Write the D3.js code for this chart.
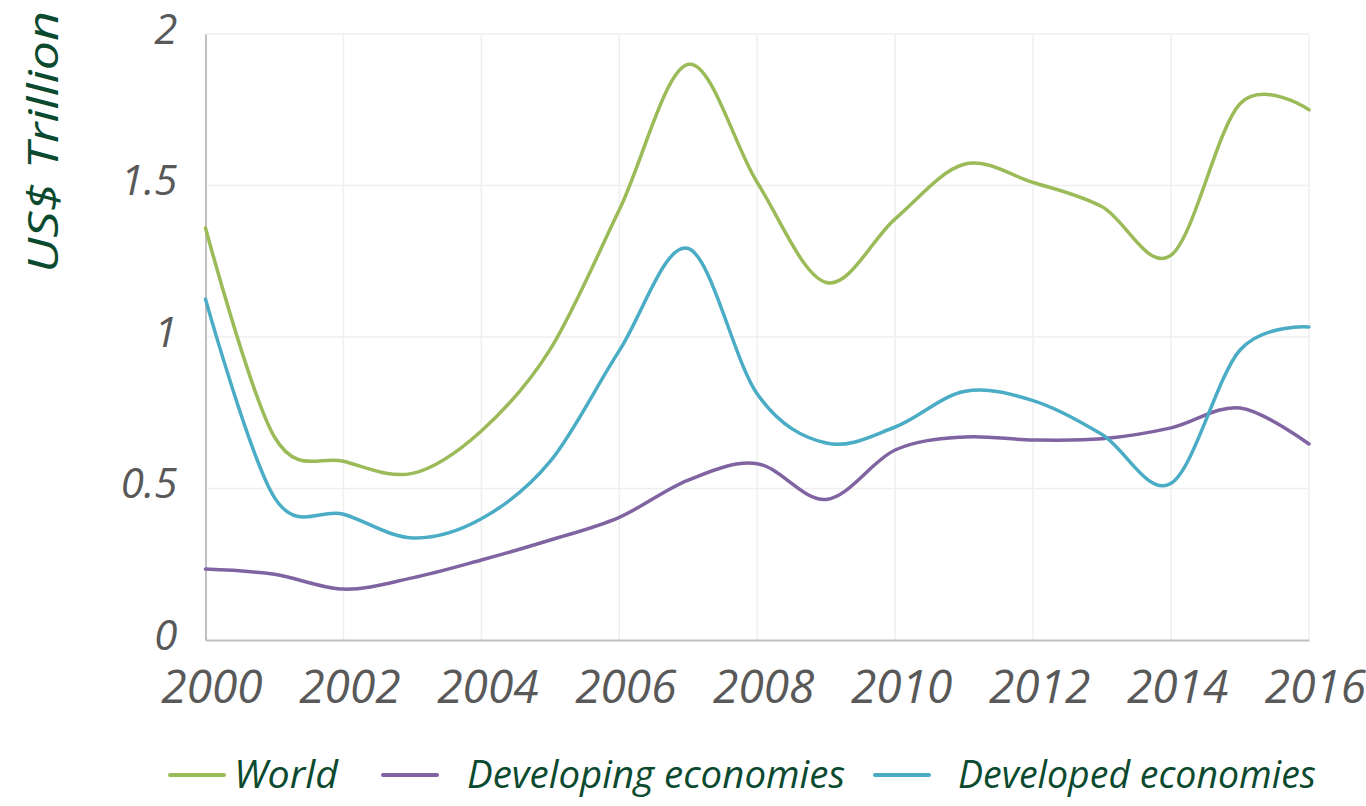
<!DOCTYPE html>
<html>
<head>
<meta charset="utf-8">
<script src="https://cdn.jsdelivr.net/npm/d3@7"></script>
<style>
  html, body { margin: 0; padding: 0; background: #fff; }
  svg { display: block; }
</style>
</head>
<body>
<svg id="chart" width="1366" height="806"></svg>
<script>
// ---- data ----
const years = [2000,2001,2002,2003,2004,2005,2006,2007,2008,2009,2010,2011,2012,2013,2014,2015,2016];
const world =      [1.36,0.67,0.59,0.55,0.69,0.96,1.42,1.90,1.51,1.18,1.39,1.57,1.51,1.43,1.27,1.77,1.75];
const developing = [0.234,0.217,0.168,0.205,0.264,0.33,0.405,0.528,0.582,0.464,0.627,0.670,0.660,0.664,0.700,0.766,0.647];
const developed =  [1.125,0.47,0.415,0.337,0.40,0.59,0.955,1.292,0.812,0.650,0.703,0.820,0.790,0.678,0.517,0.957,1.033];
const seriesNames = ["World", "Developing economies", "Developed economies"];
const seriesColors = ["#9bbb59", "#8064a2", "#4bacc6"];
const xTicks = [2000,2002,2004,2006,2008,2010,2012,2014,2016];
const yTicks = [0,0.5,1,1.5,2];
const yTitle = "US$ Trillion";

(function () {
// ---- layout ----
const svg = d3.select("#chart");
const pLeft = 205.5, pRight = 1309, pTop = 34, pBottom = 640;
const x = d3.scaleLinear().domain([2000, 2016]).range([pLeft, pRight]);
const y = d3.scaleLinear().domain([0, 2]).range([pBottom, pTop]);
const tickFont = "'Open Sans', 'DejaVu Sans', sans-serif";

// gridlines
const grid = svg.append("g");
grid.selectAll(".hg").data(yTicks.filter(d => d > 0)).join("line")
  .attr("x1", pLeft).attr("x2", pRight)
  .attr("y1", d => y(d)).attr("y2", d => y(d))
  .attr("stroke", "#efefef").attr("stroke-width", 1.5);
grid.selectAll(".vg").data(xTicks.filter(d => d > 2000)).join("line")
  .attr("x1", d => x(d)).attr("x2", d => x(d))
  .attr("y1", pTop).attr("y2", pBottom)
  .attr("stroke", "#efefef").attr("stroke-width", 1.5);

// axes
const xAxis = svg.append("g").attr("transform", `translate(0,${pBottom})`)
  .call(d3.axisBottom(x).tickValues(xTicks).tickFormat(d3.format("d")).tickSize(0).tickPadding(54));
const yAxis = svg.append("g").attr("transform", `translate(${pLeft},0)`)
  .call(d3.axisLeft(y).tickValues(yTicks).tickFormat(d3.format("~g")).tickSize(0).tickPadding(28));
[xAxis, yAxis].forEach(a => {
  a.select(".domain").attr("stroke", "#bfbfbf").attr("stroke-width", 2);
  a.selectAll("text").attr("fill", "#595959").attr("font-family", tickFont)
    .attr("font-style", "italic").attr("font-size", 42);
});
xAxis.selectAll("text").attr("font-size", 46).attr("dx", 6).attr("dy", "0.2em");
yAxis.selectAll("text").attr("dy", "0.22em");

// y title
svg.append("text")
  .attr("transform", `translate(58,142) rotate(-90)`)
  .attr("text-anchor", "middle")
  .attr("fill", "#0b4a2f")
  .attr("font-family", tickFont).attr("font-style", "italic")
  .attr("font-size", 42)
  .attr("textLength", 262)
  .attr("lengthAdjust", "spacingAndGlyphs")
  .text(yTitle);

// lines
const allSeries = [world, developing, developed];
const line = d3.line()
  .x((d, i) => x(years[i]))
  .y(d => y(d))
  .curve(d3.curveCardinal.tension(0));
svg.append("g").selectAll("path").data(allSeries).join("path")
  .attr("d", d => line(d))
  .attr("fill", "none")
  .attr("stroke", (d, i) => seriesColors[i])
  .attr("stroke-width", 3.5)
  .attr("stroke-linecap", "round");

// legend
const legendY = 775;
const legendStart = [170, 383, 875];
const legendTextX = [234, 467, 958];
const legendTextLen = [104, 378, 358];
const lg = svg.append("g");
seriesNames.forEach((name, i) => {
  lg.append("line")
    .attr("x1", legendStart[i]).attr("x2", legendStart[i] + 54)
    .attr("y1", legendY).attr("y2", legendY)
    .attr("stroke", seriesColors[i]).attr("stroke-width", 4)
    .attr("stroke-linecap", "round");
  lg.append("text")
    .attr("x", legendTextX[i])
    .attr("y", legendY + 13)
    .attr("fill", "#0b4a2f")
    .attr("font-family", tickFont).attr("font-style", "italic")
    .attr("font-size", 38)
    .attr("textLength", legendTextLen[i])
    .attr("lengthAdjust", "spacingAndGlyphs")
    .text(name);
});
})();
</script>
</body>
</html>
